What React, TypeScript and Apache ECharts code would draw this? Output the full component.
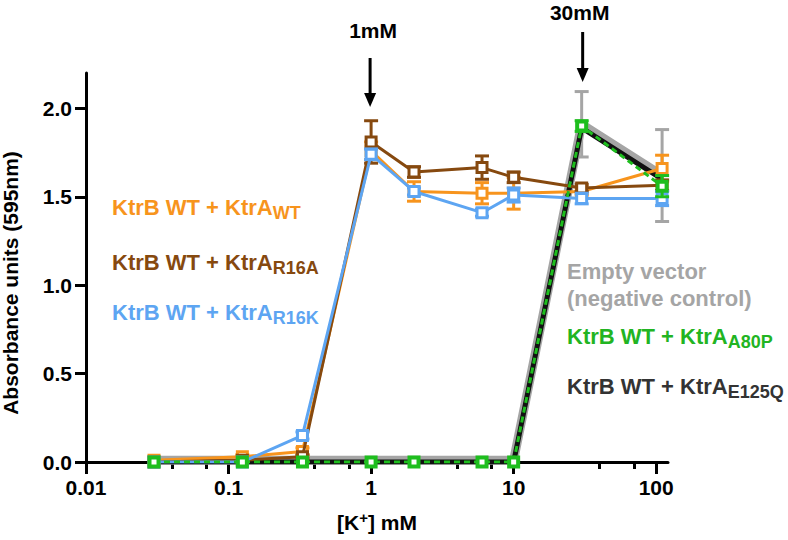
import React, { useEffect, useRef } from 'react';
import * as echarts from 'echarts';

// ---- data ----
const CONC = [0.03, 0.125, 0.33, 1, 2, 6, 10, 30, 110];

const WT_MEAN = [0.01, 0.03, 0.06, 1.76, 1.53, 1.52, 1.52, 1.53, 1.66];
const WT_SD = [0, 0.01, 0.02, 0.05, 0.055, 0.06, 0.09, 0.02, 0.075];

const R16A_MEAN = [0.0, 0.01, 0.03, 1.81, 1.64, 1.665, 1.61, 1.55, 1.565];
const R16A_SD = [0, 0, 0.01, 0.12, 0.03, 0.066, 0.03, 0.02, 0.03];

const R16K_MEAN = [0.0, 0.0, 0.15, 1.74, 1.53, 1.41, 1.51, 1.49, 1.49];
const R16K_SD = [0, 0, 0.02, 0.03, 0.02, 0.02, 0.04, 0.03, 0.04];

const EMPTY_MEAN = [0.01, 0.01, 0.01, 0.01, 0.01, 0.01, 0.01, 1.91, 1.62];
const EMPTY_SD = [0, 0, 0, 0, 0, 0, 0, 0.185, 0.26];

const E125Q_MEAN = [0, 0, 0, 0, 0, 0, 0, 1.89, 1.6];
const E125Q_SD = [0, 0, 0, 0, 0, 0, 0, 0.02, 0.03];

const A80P_MEAN = [0, 0, 0, 0, 0, 0, 0, 1.9, 1.56];
const A80P_SD = [0, 0, 0, 0, 0, 0, 0, 0.03, 0.06];

const X_TICKS = [0.01, 0.1, 1, 10, 100];
const X_MINOR_TICKS = [0.04, 0.07, 0.4, 0.7, 4, 7, 40, 70];
const Y_TICKS = [0, 0.5, 1, 1.5, 2];

const FONT = '"Liberation Sans", Arial, Helvetica, sans-serif';

const C_ORANGE = '#F7941D';
const C_BROWN = '#86490F';
const C_BLUE = '#5DA5F2';
const C_GRAY = '#A5A5A5';
const C_GREEN = '#1EBE1E';
const C_GREEN_TXT = '#22B422';
const C_DARK = '#111111';
const C_DARK_TXT = '#333333';

function points(mean: number[], sd: number[]) {
  return CONC.map((c, i) => [c, mean[i], sd[i]]);
}

function errSeries(color: string, mean: number[], sd: number[], z: number) {
  return {
    type: 'custom',
    z,
    silent: true,
    encode: { x: 0, y: 1 },
    data: points(mean, sd),
    renderItem: (params: any, api: any) => {
      const x = api.value(0);
      const y = api.value(1);
      const e = api.value(2);
      if (!e) return null;
      const top = api.coord([x, y + e]);
      const bot = api.coord([x, Math.max(0, y - e)]);
      const hw = 7;
      const st = { stroke: color, lineWidth: 3 };
      return {
        type: 'group',
        children: [
          { type: 'line', shape: { x1: top[0], y1: top[1], x2: bot[0], y2: bot[1] }, style: st },
          { type: 'line', shape: { x1: top[0] - hw, y1: top[1], x2: top[0] + hw, y2: top[1] }, style: st },
          { type: 'line', shape: { x1: bot[0] - hw, y1: bot[1], x2: bot[0] + hw, y2: bot[1] }, style: st },
        ],
      };
    },
  };
}

function lineSeries(
  name: string,
  color: string,
  mean: number[],
  z: number,
  opts: { width?: number; dash?: any; symbol?: string; symbolSize?: number; border?: number } = {}
) {
  return {
    name,
    type: 'line',
    z,
    data: CONC.map((c, i) => [c, mean[i]]),
    symbol: opts.symbol ?? 'rect',
    symbolSize: opts.symbolSize ?? 10,
    showSymbol: (opts.symbol ?? 'rect') !== 'none',
    itemStyle: { color: '#ffffff', borderColor: color, borderWidth: opts.border ?? 3 },
    lineStyle: { color, width: opts.width ?? 3, type: opts.dash ?? 'solid', join: 'round', cap: 'butt' },
    emphasis: { disabled: true },
    silent: true,
  };
}

function legendText(x: number, y: number, main: string, sub: string, color: string) {
  return {
    type: 'text',
    x,
    y,
    style: {
      text: `${main}{s|${sub}}`,
      fill: color,
      fontSize: 22,
      fontWeight: 'bold',
      fontFamily: FONT,
      verticalAlign: 'middle',
      align: 'left',
      rich: {
        s: {
          fontSize: 18,
          fontWeight: 'bold',
          fontFamily: FONT,
          fill: color,
          color,
          padding: [12, 0, 0, 0],
        },
      },
    },
  };
}

function plainText(x: number, y: number, text: string, color: string, size: number, align = 'left', rotation = 0) {
  return {
    type: 'text',
    x,
    y,
    rotation,
    style: {
      text,
      fill: color,
      fontSize: size,
      fontWeight: 'bold',
      fontFamily: FONT,
      align,
      verticalAlign: 'middle',
    },
  };
}

function arrow(x: number, y0: number, y1: number) {
  return [
    {
      type: 'line',
      shape: { x1: x, y1: y0, x2: x, y2: y1 - 8 },
      style: { stroke: '#000', lineWidth: 3 },
    },
    {
      type: 'polygon',
      shape: { points: [[x - 6, y1 - 14], [x + 6, y1 - 14], [x, y1]] },
      style: { fill: '#000' },
    },
  ];
}

function fmtLog(v: number) {
  return String(Number(Number(v).toPrecision(3)));
}

export default function App() {
  const ref = useRef<HTMLDivElement>(null);

  useEffect(() => {
    const el = ref.current!;
    const chart = echarts.init(el, null, { renderer: 'svg' });

    const axisFont = { fontSize: 21, fontWeight: 'bold', fontFamily: FONT, color: '#000' };

    const option: any = {
      animation: false,
      backgroundColor: '#ffffff',
      grid: { left: 86, right: 120, top: 73, bottom: 78, containLabel: false, outerBoundsMode: 'none' },
      xAxis: [
        {
          type: 'log',
          logBase: 10,
          min: 0.01,
          max: 121,
          position: 'bottom',
          name: '[K{sup|+}] mM',
          nameLocation: 'middle',
          nameGap: 48,
          nameMoveOverlap: false,
          nameTextStyle: {
            ...axisFont,
            rich: { sup: { fontSize: 15, fontWeight: 'bold', fontFamily: FONT, color: '#000', padding: [0, 0, 10, 0] } },
          },
          axisLine: { show: true, onZero: false, lineStyle: { color: '#000', width: 3 } },
          axisTick: { show: true, length: 12, lineStyle: { color: '#000', width: 3 }, customValues: X_TICKS },
          axisLabel: { ...axisFont, margin: 15, customValues: X_TICKS, formatter: (v: number) => fmtLog(v) },
          splitLine: { show: false },
          minorTick: { show: false },
        },
        {
          type: 'log',
          logBase: 10,
          min: 0.01,
          max: 121,
          position: 'bottom',
          axisLine: { show: false },
          axisTick: { show: true, length: 7, lineStyle: { color: '#000', width: 3 }, customValues: X_MINOR_TICKS },
          axisLabel: { show: false },
          splitLine: { show: false },
        },
      ],
      yAxis: {
        type: 'value',
        min: 0,
        max: 2.2,
        interval: 0.5,
        axisLine: { show: true, onZero: false, lineStyle: { color: '#000', width: 3 } },
        axisTick: { show: true, length: 11, lineStyle: { color: '#000', width: 3 }, customValues: Y_TICKS },
        axisLabel: { ...axisFont, margin: 14, customValues: Y_TICKS, formatter: (v: number) => Number(v).toFixed(1) },
        splitLine: { show: false },
      },
      series: [
        errSeries(C_GRAY, EMPTY_MEAN, EMPTY_SD, 2),
        lineSeries('Empty vector', C_GRAY, EMPTY_MEAN, 2, { width: 9, symbol: 'none' }),
        lineSeries('KtrB WT + KtrA E125Q', C_DARK, E125Q_MEAN, 3, { width: 5, symbol: 'none' }),
        errSeries(C_ORANGE, WT_MEAN, WT_SD, 4),
        lineSeries('KtrB WT + KtrA WT', C_ORANGE, WT_MEAN, 4),
        errSeries(C_BROWN, R16A_MEAN, R16A_SD, 5),
        lineSeries('KtrB WT + KtrA R16A', C_BROWN, R16A_MEAN, 5),
        errSeries(C_BLUE, R16K_MEAN, R16K_SD, 6),
        lineSeries('KtrB WT + KtrA R16K', C_BLUE, R16K_MEAN, 6),
        errSeries(C_GREEN, A80P_MEAN, A80P_SD, 7),
        lineSeries('KtrB WT + KtrA A80P', C_GREEN, A80P_MEAN, 7, { width: 3, dash: [6, 4], symbolSize: 9, border: 4 }),
      ],
    };

    chart.setOption(option);

    const p1 = chart.convertToPixel({ gridIndex: 0 }, [1, 0]) as number[];
    const p30 = chart.convertToPixel({ gridIndex: 0 }, [30, 0]) as number[];

    const graphic: any[] = [
      plainText(10, 283, 'Absorbance units (595nm)', '#000', 21, 'center', Math.PI / 2),
      plainText(p1[0] + 2, 30, '1mM', '#000', 21, 'center'),
      ...arrow(p1[0] - 1, 58, 107),
      plainText(p30[0] - 2, 12, '30mM', '#000', 21, 'center'),
      ...arrow(p30[0] + 1, 32, 82),
      legendText(112, 207, 'KtrB WT + KtrA', 'WT', C_ORANGE),
      legendText(112, 262, 'KtrB WT + KtrA', 'R16A', C_BROWN),
      legendText(112, 312, 'KtrB WT + KtrA', 'R16K', C_BLUE),
      plainText(567, 271, 'Empty vector', C_GRAY, 22),
      plainText(567, 298, '(negative control)', C_GRAY, 22),
      legendText(567, 336, 'KtrB WT + KtrA', 'A80P', C_GREEN_TXT),
      legendText(567, 386, 'KtrB WT + KtrA', 'E125Q', C_DARK_TXT),
    ];
    chart.setOption({ graphic });

    return () => chart.dispose();
  }, []);

  return <div ref={ref} style={{ position: 'absolute', left: 0, top: 0, width: 788, height: 540 }} />;
}
